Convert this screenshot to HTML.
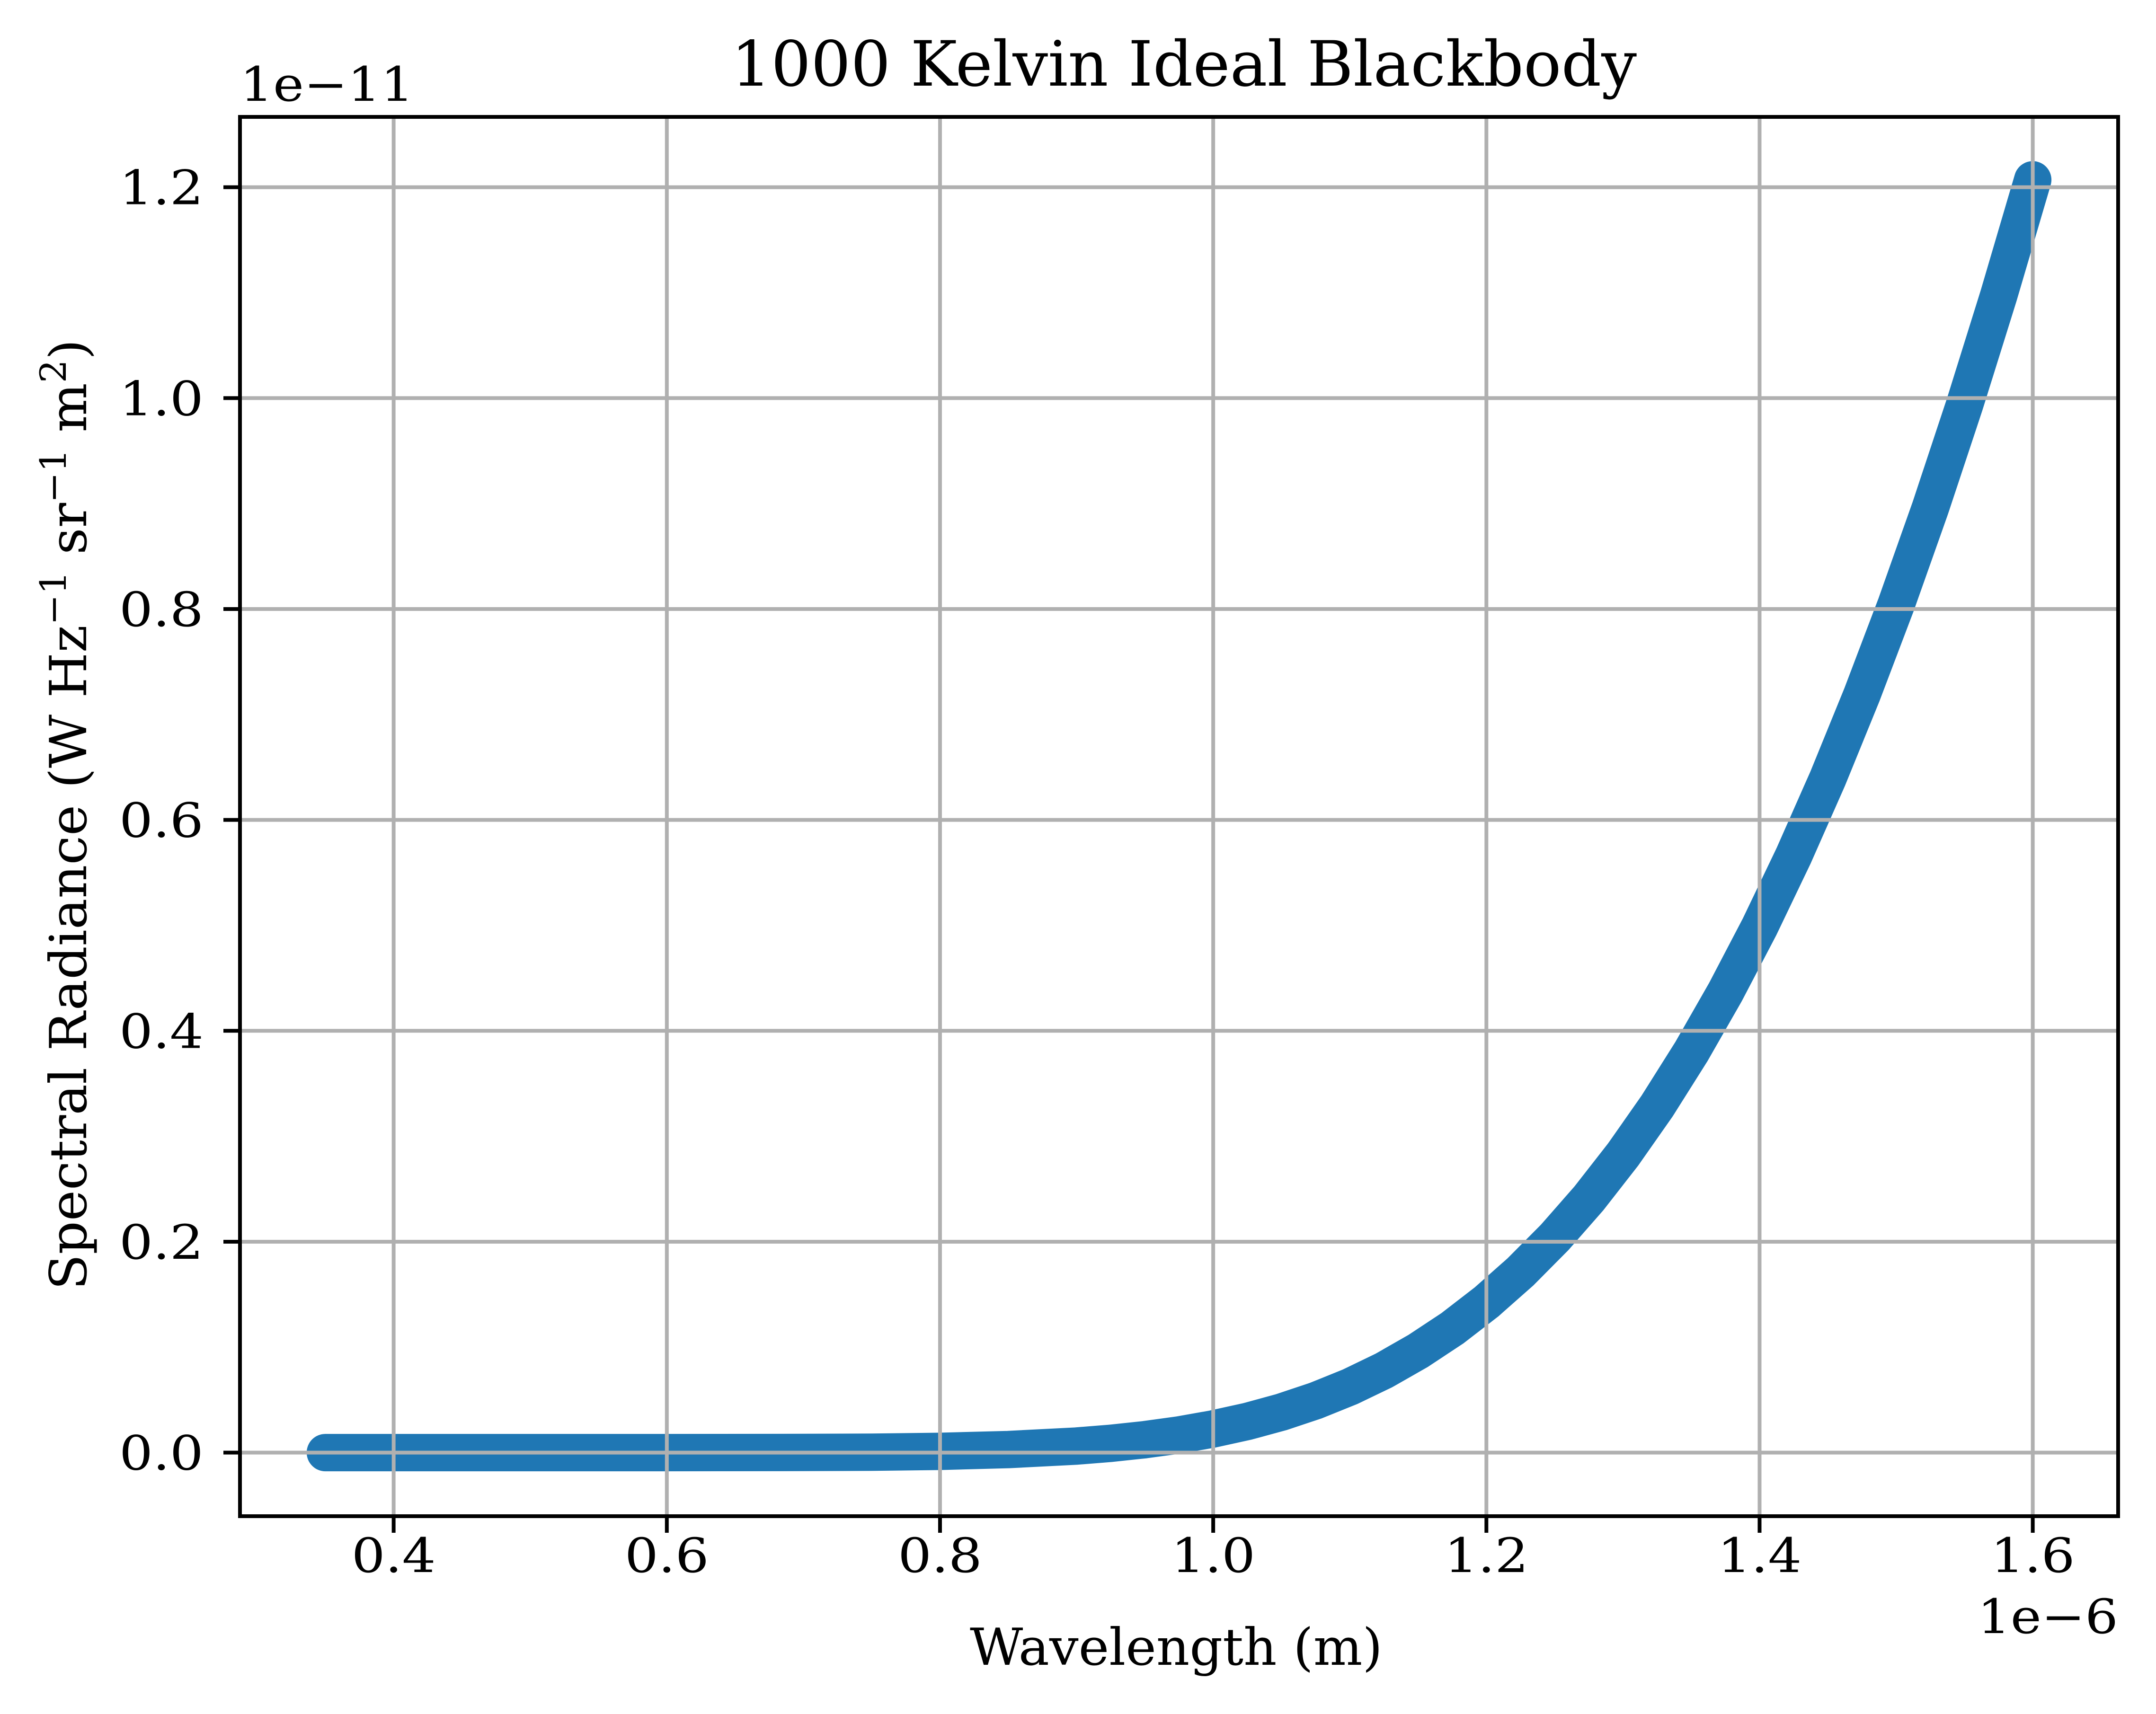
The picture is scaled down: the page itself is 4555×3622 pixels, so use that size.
<!DOCTYPE html>
<html><head><meta charset="utf-8"><style>
html,body{margin:0;padding:0;background:#fff;}
svg{display:block;}
text{font-family:"DejaVu Serif","Liberation Serif",serif;fill:#000;}
</style></head><body>
<svg id="chart" width="4555" height="3622" viewBox="0 0 4555 3622" xmlns="http://www.w3.org/2000/svg">
<rect x="0" y="0" width="4555" height="3622" fill="#fff"/>
<g id="series"></g>
<g id="grid"></g>
<rect x="507" y="247" width="3968" height="2957" fill="none" stroke="#000" stroke-width="8"/>
<g id="ticks"></g>
<text x="1545" y="181" font-size="132" textLength="1913" lengthAdjust="spacingAndGlyphs">1000 Kelvin Ideal Blackbody</text>
<text x="2049" y="3518" font-size="108" textLength="872" lengthAdjust="spacingAndGlyphs">Wavelength (m)</text>
<text x="4475" y="3451" font-size="100" text-anchor="end" transform="translate(4475,0) scale(1.1,1) translate(-4475,0)">1e−6</text>
<text x="507" y="213" font-size="100" text-anchor="start" transform="translate(507,0) scale(1.1,1) translate(-507,0)">1e−11</text>
<text transform="translate(182,2726) rotate(-90)" font-size="108" textLength="2009" lengthAdjust="spacingAndGlyphs">Spectral Radiance (W Hz<tspan font-size="76" dy="-43">−1</tspan><tspan dy="43"> sr</tspan><tspan font-size="76" dy="-43">−1</tspan><tspan dy="43"> m</tspan><tspan font-size="76" dy="-43">2</tspan><tspan dy="43">)</tspan></text>
</svg>
<script>
const xTicks = [0.4, 0.6, 0.8, 1.0, 1.2, 1.4, 1.6];
const xTickLabels = ["0.4", "0.6", "0.8", "1.0", "1.2", "1.4", "1.6"];
const yTicks = [0.0, 0.2, 0.4, 0.6, 0.8, 1.0, 1.2];
const yTickLabels = ["0.0", "0.2", "0.4", "0.6", "0.8", "1.0", "1.2"];
const wavelengths = [0.35,0.4,0.5,0.6,0.7,0.75,0.8,0.85,0.9,0.925,0.95,0.975,1.0,1.025,1.05,1.075,1.1,1.125,1.15,1.175,1.2,1.225,1.25,1.275,1.3,1.325,1.35,1.375,1.4,1.425,1.45,1.475,1.5,1.525,1.55,1.575,1.6];
const radiance = [0,0,0,0.000005,0.000137,0.00044,0.0012,0.00288,0.00622,0.00882,0.01227,0.01673,0.02243,0.02959,0.03844,0.04926,0.0623,0.0779,0.0964,0.1178,0.1428,0.1715,0.2041,0.2410,0.2825,0.3287,0.3801,0.4367,0.4987,0.5662,0.6396,0.7190,0.8044,0.8958,0.9934,1.0971,1.207];

const X0=507, X1=4475, Y0=3204, Y1=247;
const xmin=0.2875, xmax=1.6625, ymin=-0.0603, ymax=1.2667;
function sx(v){return X0+(v-xmin)/(xmax-xmin)*(X1-X0);}
function sy(v){return Y0-(v-ymin)/(ymax-ymin)*(Y0-Y1);}
const NS="http://www.w3.org/2000/svg";
const grid=document.getElementById('grid'), ticks=document.getElementById('ticks'), series=document.getElementById('series');
function mk(tag,attrs,parent){const e=document.createElementNS(NS,tag);for(const k in attrs)e.setAttribute(k,attrs[k]);parent.appendChild(e);return e;}
xTicks.forEach((t,i)=>{
  const x=sx(t);
  const g=mk('line',{x1:x,x2:x,y1:Y1,y2:Y0,stroke:'#b0b0b0','stroke-width':8},grid);
  
  
  const tk=mk('line',{x1:x,x2:x,y1:Y0,y2:Y0+35,stroke:'#000','stroke-width':8},ticks);
  
  
  const lb=mk('text',{x:0,y:0,'font-size':100,'text-anchor':'middle',transform:'translate('+x+',3322) scale(1.12,1)'},ticks);
  lb.textContent=xTickLabels[i];
  
  
});
yTicks.forEach((t,i)=>{
  const y=sy(t);
  const g=mk('line',{x1:X0,x2:X1,y1:y,y2:y,stroke:'#b0b0b0','stroke-width':8},grid);
  
  
  const tk=mk('line',{x1:X0-35,x2:X0,y1:y,y2:y,stroke:'#000','stroke-width':8},ticks);
  
  
  const lb=mk('text',{x:0,y:0,'font-size':100,'text-anchor':'end',transform:'translate(430,'+(y+36)+') scale(1.12,1)'},ticks);
  lb.textContent=yTickLabels[i];
  
  
});
let d='';
wavelengths.forEach((w,i)=>{d+=(i?'L':'M')+sx(w).toFixed(1)+','+sy(radiance[i]).toFixed(1);});
const p=mk('path',{d:d,fill:'none',stroke:'#1f77b4','stroke-width':79,'stroke-linecap':'round','stroke-linejoin':'round'},series);


</script>
</body></html>
